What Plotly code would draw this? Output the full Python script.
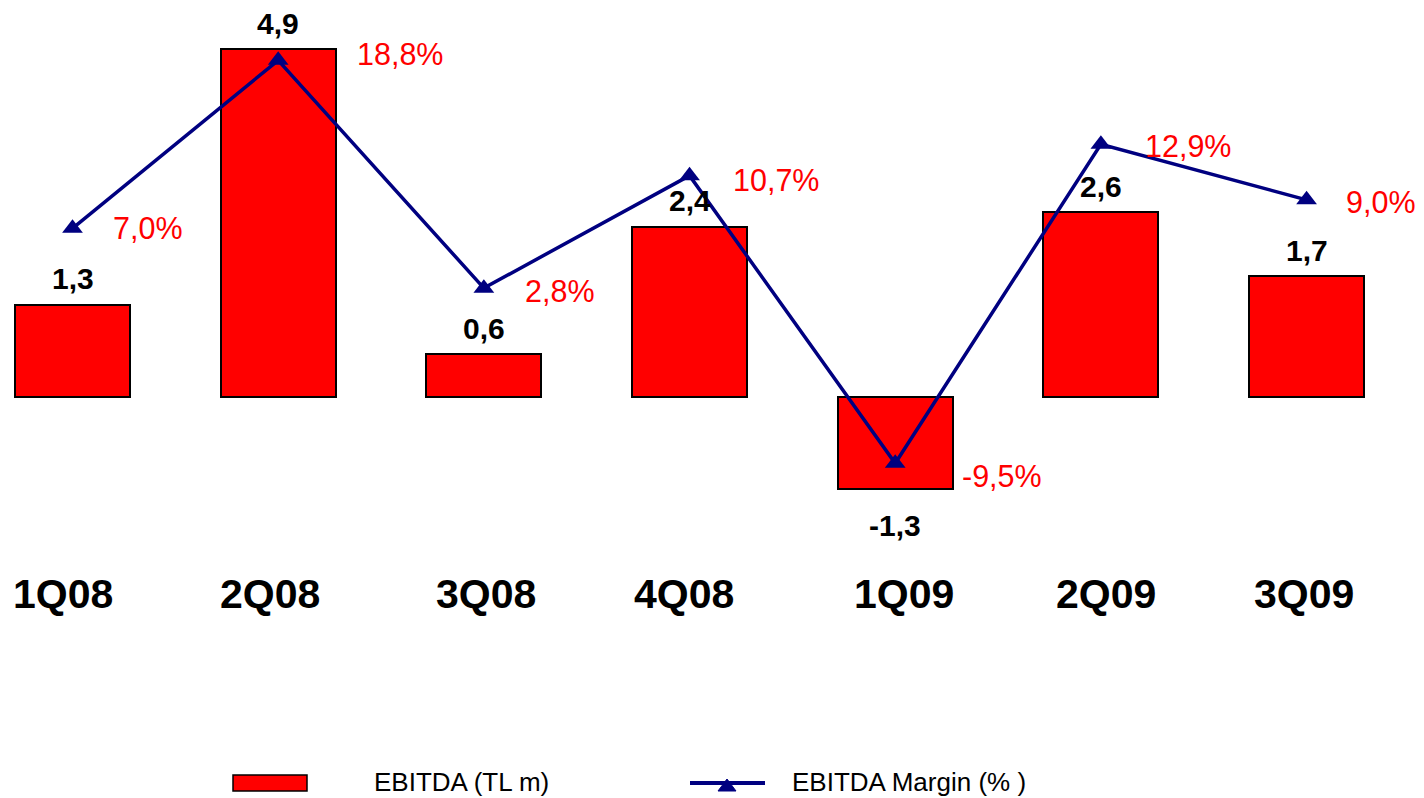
import plotly.graph_objects as go

# Quarterly EBITDA (TL m) and EBITDA margin (%)
quarters = ["1Q08", "2Q08", "3Q08", "4Q08", "1Q09", "2Q09", "3Q09"]
ebitda = [1.3, 4.9, 0.6, 2.4, -1.3, 2.6, 1.7]
margin = [7.0, 18.8, 2.8, 10.7, -9.5, 12.9, 9.0]

# Pixel offsets (dx right, dy down) of each margin label from its point
margin_label_offsets = [(75, 0), (122, -6), (76, 3), (86, 4), (107, 13), (87, 2), (74, 2)]
# Horizontal pixel nudges of the quarter labels
quarter_label_dx = [-10, -8, 2, -6, 9, 5, -3]

RED = "#FF0000"
NAVY = "#000080"
FONT = "Liberation Sans, Arial, sans-serif"
W, H = 1424, 798


def tr(v, pct=False):
    s = f"{v:.1f}".replace(".", ",")
    return s + "%" if pct else s


fig = go.Figure()

fig.add_trace(go.Bar(
    x=quarters, y=ebitda, name="EBITDA (TL m)",
    width=0.56,
    marker=dict(color=RED, line=dict(color="#000000", width=2)),
    showlegend=False, hoverinfo="skip",
))

fig.add_trace(go.Scatter(
    x=quarters, y=margin, name="EBITDA Margin (% )", yaxis="y2",
    mode="lines+markers",
    line=dict(color=NAVY, width=3.5),
    marker=dict(symbol="triangle-up", size=18, color=NAVY),
    showlegend=False, hoverinfo="skip",
))

annotations = []

# EBITDA value labels above positive / below negative bars
for q, v in zip(quarters, ebitda):
    annotations.append(dict(
        x=q, y=v, xref="x", yref="y", showarrow=False,
        text=tr(v), yanchor="middle", xanchor="center",
        yshift=26 if v >= 0 else -36,
        font=dict(family=FONT, size=30, color="#000000", weight="bold"),
    ))

# Margin labels beside each point
for q, m, (dx, dy) in zip(quarters, margin, margin_label_offsets):
    annotations.append(dict(
        x=q, y=m, xref="x", yref="y2", showarrow=False,
        text=tr(m, pct=True), yanchor="middle", xanchor="center",
        xshift=dx, yshift=-dy,
        font=dict(family=FONT, size=30.5, color=RED),
    ))

# Quarter labels
for q, dx in zip(quarters, quarter_label_dx):
    annotations.append(dict(
        x=q, y=1 - 594 / H, xref="x", yref="paper", showarrow=False,
        text=q, yanchor="middle", xanchor="center", xshift=dx,
        font=dict(family=FONT, size=41, color="#000000", weight="bold"),
    ))

# Legend text
legend_y = 1 - 781.5 / H
annotations.append(dict(
    x=372 / W, y=legend_y, xref="paper", yref="paper", showarrow=False,
    text="EBITDA (TL m)", xanchor="left", yanchor="middle",
    font=dict(family=FONT, size=26, color="#000000"),
))
annotations.append(dict(
    x=790 / W, y=legend_y, xref="paper", yref="paper", showarrow=False,
    text="EBITDA Margin (% )", xanchor="left", yanchor="middle",
    font=dict(family=FONT, size=26, color="#000000"),
))


def px(x):
    return x / W


def py(y):
    return 1 - y / H


# Legend swatches
shapes = [
    dict(type="rect", xref="paper", yref="paper",
         x0=px(233), x1=px(307), y0=py(775), y1=py(791),
         fillcolor=RED, line=dict(color="#000000", width=1.5)),
    dict(type="line", xref="paper", yref="paper",
         x0=px(690), x1=px(765), y0=py(783), y1=py(783),
         line=dict(color=NAVY, width=4)),
    dict(type="path", xref="paper", yref="paper",
         path=f"M {px(718)} {py(791)} L {px(736)} {py(791)} L {px(727)} {py(779)} Z",
         fillcolor=NAVY, line=dict(color=NAVY, width=1)),
]

fig.update_layout(
    width=W, height=H,
    margin=dict(l=0, r=0, t=0, b=0, pad=0),
    paper_bgcolor="#FFFFFF", plot_bgcolor="#FFFFFF",
    showlegend=False,
    bargap=0,
    xaxis=dict(type="category", range=[-0.3525, 6.571], showgrid=False,
               zeroline=False, showticklabels=False, showline=False, ticks=""),
    yaxis=dict(range=[-(H - 397) / 71, 397 / 71], showgrid=False,
               zeroline=False, showticklabels=False, showline=False, ticks=""),
    yaxis2=dict(range=[-(H - 328) / 14.24, 328 / 14.24], overlaying="y",
                side="right", showgrid=False, zeroline=False,
                showticklabels=False, showline=False, ticks=""),
    annotations=annotations,
    shapes=shapes,
)

fig.write_html("out.html")
